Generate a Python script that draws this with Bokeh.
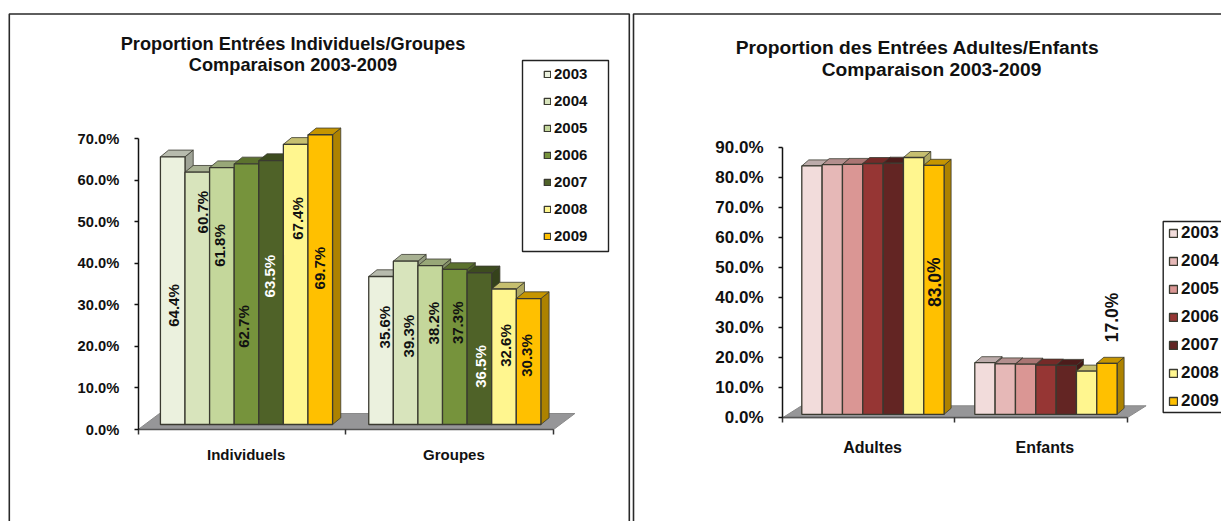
from bokeh.plotting import figure
from bokeh.layouts import row
from bokeh.models import (Range1d, LinearAxis, FixedTicker, PrintfTickFormatter,
                          Legend, LegendItem)
from bokeh.core.properties import value
from bokeh.embed import file_html
from bokeh.resources import INLINE

years = ["2003", "2004", "2005", "2006", "2007", "2008", "2009"]

# Left chart
cats_left = ["Individuels", "Groupes"]
individuels = [64.4, 60.7, 61.8, 62.7, 63.5, 67.4, 69.7]
groupes = [35.6, 39.3, 38.2, 37.3, 36.5, 32.6, 30.3]
ticks_left = [0, 10, 20, 30, 40, 50, 60, 70]
colors_left = ["#EBF1DE", "#D8E4BC", "#C4D79B", "#76933C", "#4F6228", "#FFF68F", "#FFC000"]

# Right chart
cats_right = ["Adultes", "Enfants"]
adultes = [82.8, 83.2, 83.3, 83.6, 83.7, 85.6, 83.0]
enfants = [17.2, 16.8, 16.7, 16.4, 16.3, 14.4, 17.0]
ticks_right = [0, 10, 20, 30, 40, 50, 60, 70, 80, 90]
colors_right = ["#F2DCDB", "#E6B8B7", "#DA9694", "#963634", "#632523", "#FFF68F", "#FFC000"]

FONT = "Liberation Sans"
INK = "#111111"
EDGE = "#3a3a30"


def shade(hex_color, f):
    r, g, b = (int(hex_color[i:i + 2], 16) for i in (1, 3, 5))
    return "#%02x%02x%02x" % (int(r * f), int(g * f), int(b * f))


def panel(cfg):
    left, right = cfg["left"], cfg["right"]
    top, bottom = 0, 521
    x0, xs = cfg["x0"], cfg["x_scale"]
    y0, ys = cfg["y0"], cfg["y_scale"]
    X = lambda px: (px - x0) / xs
    Y = lambda py: (y0 - py) / ys

    p = figure(width=right - left, height=bottom - top,
               x_range=Range1d(X(left), X(right)), y_range=Range1d(Y(bottom), Y(top)),
               min_border=0, x_axis_type=None, y_axis_type=None, toolbar_location=None,
               output_backend="svg", outline_line_color=None, background_fill_color="white",
               border_fill_color="white")
    p.grid.visible = False

    # panel frame
    bx = cfg["border"]
    p.quad(left=[X(bx[0])], right=[X(bx[1])], top=[Y(13.5)], bottom=[Y(560)],
           fill_color=None, line_color="#2a2a2a", line_width=1.6)

    # floor
    fdx, fdy = cfg["floor"]
    p.patch([0, 2, 2 + fdx / xs, fdx / xs], [0, 0, fdy / ys, fdy / ys],
            fill_color="#969698", line_color="#8a8a8a", line_width=1)

    # bars
    lift = cfg["lift"] / ys
    dx, dy = cfg["depth"][0] / xs, cfg["depth"][1] / ys
    w = cfg["bar_w"]
    items = []
    for s, year in enumerate(years):
        lefts = [g + cfg["g_left"][g] + s * w for g in range(2)]
        rights = [l + w for l in lefts]
        tops = [cfg["series"][g][s] + lift for g in range(2)]
        col = cfg["colors"][s]
        p.patches([[r, r + dx, r + dx, r] for r in rights],
                  [[lift, lift + dy, t + dy, t] for t in tops],
                  fill_color=shade(col, 0.68), line_color=EDGE, line_width=0.8)
        p.patches([[l, l + dx, r + dx, r] for l, r in zip(lefts, rights)],
                  [[t, t + dy, t + dy, t] for t in tops],
                  fill_color=shade(col, 0.78), line_color=EDGE, line_width=0.8)
        r = p.vbar(x=[(a + b) / 2 for a, b in zip(lefts, rights)], width=w,
                   bottom=[lift, lift], top=tops,
                   fill_color=col, line_color=EDGE, line_width=1.3)
        items.append(LegendItem(label=year, renderers=[r]))

    # axes
    ya = LinearAxis(ticker=FixedTicker(ticks=cfg["ticks"]),
                    formatter=PrintfTickFormatter(format="%.1f%%"),
                    fixed_location=0, bounds=(cfg["ticks"][0], cfg["ticks"][-1]),
                    major_tick_in=0, major_tick_out=4, minor_tick_line_color=None,
                    axis_line_color="#111111", axis_line_width=1.5,
                    major_tick_line_color="#111111", major_tick_line_width=1.5,
                    major_label_text_font=FONT, major_label_text_font_style="bold",
                    major_label_text_font_size=cfg["tick_font"], major_label_text_color=INK,
                    major_label_standoff=cfg["y_standoff"])
    p.add_layout(ya, "left")
    xa = LinearAxis(ticker=FixedTicker(ticks=[0, 1, 2]), fixed_location=0, bounds=(0, 2),
                    major_label_overrides={0: "", 1: "", 2: ""},
                    major_tick_in=0, major_tick_out=5,
                    minor_tick_line_color=None, axis_line_color="#555555", axis_line_width=1.5,
                    major_tick_line_color="#333333", major_tick_line_width=1.5)
    p.add_layout(xa, "below")
    cx = [0.5 + cfg["cat_shift"], 1.5 + cfg["cat_shift"]]
    ca = LinearAxis(ticker=FixedTicker(ticks=cx), fixed_location=0, bounds=(0, 2),
                    major_label_overrides=dict(zip(cx, cfg["cats"])),
                    major_tick_line_color=None, minor_tick_line_color=None, axis_line_color=None,
                    major_tick_in=0, major_tick_out=0,
                    major_label_text_font=FONT, major_label_text_font_style="bold",
                    major_label_text_font_size=cfg["cat_font"], major_label_text_color=INK,
                    major_label_standoff=cfg["x_standoff"])
    p.add_layout(ca, "below")

    # data labels
    lx, ly, lt, lc = [], [], [], []
    for (g, s, px, py, colr) in cfg["labels"]:
        lx.append(X(px)); ly.append(Y(py))
        lt.append("%.1f%%" % cfg["series"][g][s]); lc.append(colr)
    p.text(x=lx, y=ly, text=lt, text_color=lc, angle=1.5708, text_align="center",
           text_baseline="middle", text_font=value(FONT), text_font_style="bold",
           text_font_size=cfg["label_font"])

    # title
    for txt, px, py in cfg["title"]:
        p.text(x=[X(px)], y=[Y(py)], text=[txt], text_color="#111111", text_align="center",
               text_baseline="middle", text_font=value(FONT), text_font_style="bold",
               text_font_size=cfg["title_font"])

    # legend
    lb = cfg["legend_box"]
    p.quad(left=[X(lb[0])], right=[X(lb[1])], top=[Y(lb[2])], bottom=[Y(lb[3])],
           fill_color="white", line_color="#222222", line_width=1.4)
    leg = Legend(items=items, location=cfg["legend_loc"], orientation="vertical",
                 background_fill_alpha=0, border_line_color=None, padding=0, margin=0,
                 glyph_width=cfg["swatch"], glyph_height=cfg["swatch"],
                 label_standoff=cfg["leg_standoff"], label_height=16, spacing=cfg["leg_spacing"],
                 label_text_font=FONT, label_text_font_style="bold",
                 label_text_font_size=cfg["leg_font"], label_text_color="#111111",
                 label_text_baseline="middle")
    p.add_layout(leg)
    return p


left_cfg = dict(
    left=0, right=631, x0=137.7, x_scale=207.7, y0=429, y_scale=4.157,
    border=(8.8, 628.8), floor=(21.3, 16), lift=5, depth=(8.2, 6.7), bar_w=0.1184,
    g_left=[0.107, 0.11], series=[individuels, groupes], colors=colors_left, cats=cats_left,
    ticks=ticks_left, tick_font="14.7px", cat_font="15px", label_font="15px", title_font="18.2px",
    y_standoff=15, x_standoff=16, cat_shift=0.02,
    title=[("Proportion Entrées Individuels/Groupes", 292.5, 43),
           ("Comparaison 2003-2009", 292.5, 64)],
    labels=[(0, 0, 172.7, 305, INK), (0, 1, 201.7, 211.7, INK), (0, 2, 218.7, 245, INK),
            (0, 3, 243, 326, INK), (0, 4, 269, 275.7, "white"), (0, 5, 297, 218, INK),
            (0, 6, 319, 267.7, INK),
            (1, 0, 384.3, 326.7, INK), (1, 1, 408.3, 335.7, INK), (1, 2, 433.3, 322.7, INK),
            (1, 3, 457.3, 322.3, INK), (1, 4, 480, 366, "white"), (1, 5, 505.3, 345, INK),
            (1, 6, 525.7, 355, INK)],
    legend_box=(522, 608, 60, 251), legend_loc=(543, 277), swatch=8, leg_standoff=3,
    leg_spacing=10, leg_font="15px",
)
right_cfg = dict(
    left=631, right=1221, x0=782, x_scale=172.3, y0=417.3, y_scale=3.0,
    border=(633, 1300), floor=(19, 12), lift=3.5, depth=(7, 6), bar_w=0.118,
    g_left=[0.112, 0.116], series=[adultes, enfants], colors=colors_right, cats=cats_right,
    ticks=ticks_right, tick_font="17px", cat_font="16px", label_font="17.5px", title_font="19.2px",
    y_standoff=15, x_standoff=21, cat_shift=0.023,
    title=[("Proportion des Entrées Adultes/Enfants", 917, 46.7),
           ("Comparaison 2003-2009", 931, 69)],
    labels=[(0, 6, 934, 281.7, INK), (1, 6, 1111.7, 317, INK)],
    legend_box=(1162.7, 1300, 221, 412), legend_loc=(537, 110), swatch=10, leg_standoff=3,
    leg_spacing=8, leg_font="17px",
)

layout = row(panel(left_cfg), panel(right_cfg), spacing=0)
open("out.html", "w").write(file_html(layout, INLINE))
